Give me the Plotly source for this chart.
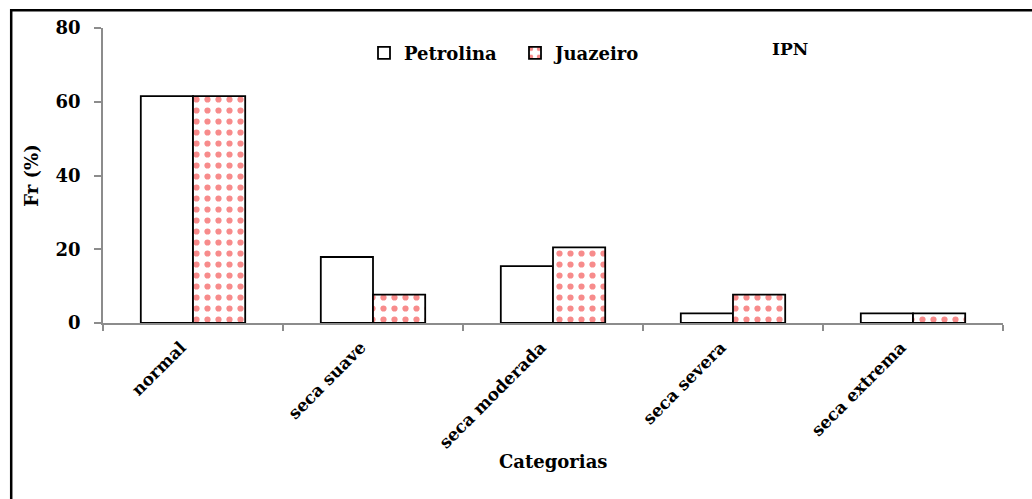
import plotly.graph_objects as go

# Relative frequency (%) of each drought category, IPN index
categorias = ["normal", "seca suave", "seca moderada", "seca severa", "seca extrema"]
petrolina = [61.5, 17.9, 15.4, 2.6, 2.6]
juazeiro = [61.5, 7.7, 20.5, 7.7, 2.6]
y_ticks = [0, 20, 40, 60, 80]

FONT = "DejaVu Serif"

fig = go.Figure()
fig.add_trace(go.Bar(
    x=categorias, y=petrolina, name="<b>Petrolina</b>",
    marker=dict(color="white", line=dict(color="black", width=1.8)),
))
fig.add_trace(go.Bar(
    x=categorias, y=juazeiro, name="<b>Juazeiro</b>",
    marker=dict(
        color="white",
        line=dict(color="black", width=1.8),
        pattern=dict(shape=".", fgcolor="#f01818", bgcolor="white",
                     size=11, solidity=0.25),
    ),
))

fig.update_layout(
    width=1032, height=499,
    paper_bgcolor="white", plot_bgcolor="white",
    margin=dict(l=103, r=29, t=28, b=176),
    barmode="group", bargap=0.42, bargroupgap=0,
    font=dict(family=FONT, color="black"),
    showlegend=True,
    legend=dict(
        orientation="h", x=0.29, y=0.915, xanchor="left", yanchor="middle",
        font=dict(family=FONT, size=18, color="black"),
        bgcolor="rgba(0,0,0,0)", itemwidth=30, traceorder="normal",
        entrywidth=106, entrywidthmode="pixels",
    ),
    xaxis=dict(
        type="category", tickson="boundaries",
        tickvals=categorias, ticktext=[f"<b>{c}</b>" for c in categorias],
        showline=True, linecolor="#8c8c8c", linewidth=1.5,
        ticks="outside", ticklen=6, tickcolor="#8c8c8c", tickwidth=1.5,
        tickangle=-45, tickfont=dict(family=FONT, size=17, color="black"),
        ticklabelshift=-12, ticklabelstandoff=6,
        showgrid=False, automargin=False,
    ),
    yaxis=dict(
        range=[0, 80], tickvals=y_ticks,
        ticktext=[f"<b>{v}</b>" for v in y_ticks],
        showline=True, linecolor="#8c8c8c", linewidth=1.5,
        ticks="outside", ticklen=7, tickcolor="#8c8c8c", tickwidth=1.5,
        tickfont=dict(family=FONT, size=18, color="black"),
        ticklabelstandoff=10,
        showgrid=False, zeroline=False, automargin=False,
        title=dict(text="<b>Fr (%)</b>", font=dict(family=FONT, size=18), standoff=12),
    ),
    annotations=[
        dict(text="<b>Categorias</b>", xref="paper", yref="paper",
             x=0.5, y=-0.47, xanchor="center", yanchor="middle",
             showarrow=False, font=dict(family=FONT, size=18, color="black")),
        dict(text="<b>IPN</b>", xref="paper", yref="paper",
             x=0.763, y=0.93, xanchor="center", yanchor="middle",
             showarrow=False, font=dict(family=FONT, size=17, color="black")),
    ],
    shapes=[
        dict(type="rect", xref="paper", yref="paper",
             x0=-0.102, x1=1.05, y0=-0.75, y1=1.06,
             line=dict(color="black", width=2.5), fillcolor="rgba(0,0,0,0)",
             layer="below"),
    ],
)

fig.write_html("out.html")
